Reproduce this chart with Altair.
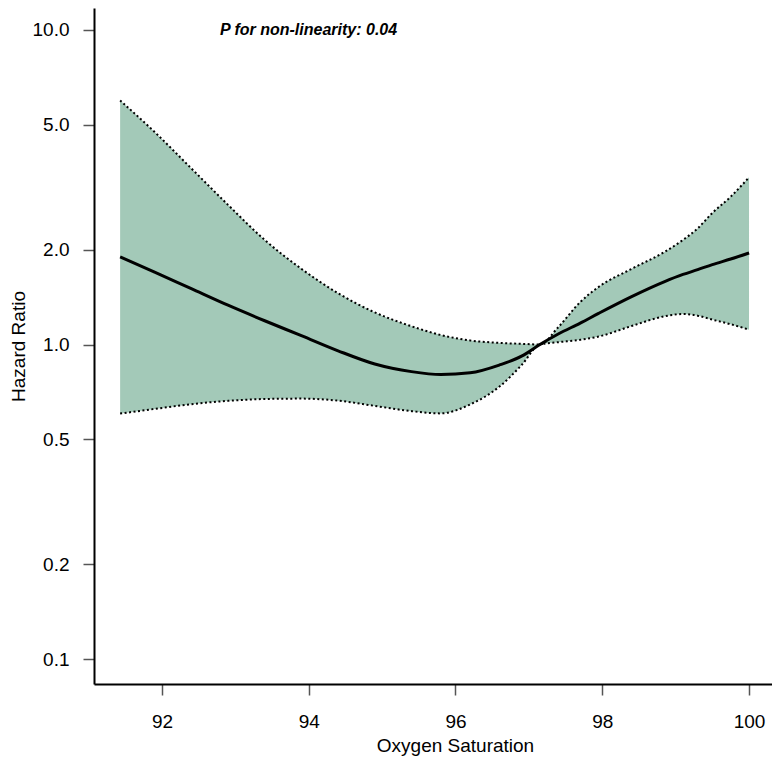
import altair as alt
import pandas as pd

x_vals = [91.43, 91.9, 92.4, 92.9, 93.4, 93.9, 94.4, 94.9, 95.4, 95.8, 96.2, 96.6,
          96.9, 97.15, 97.4, 97.7, 97.95, 98.4, 98.85, 99.1, 99.3, 99.5, 99.75, 100.0]
hr_vals = [1.90, 1.70, 1.505, 1.333, 1.19, 1.067, 0.955, 0.867, 0.82, 0.803, 0.813, 0.861,
           0.918, 1.00, 1.08, 1.17, 1.256, 1.42, 1.585, 1.67, 1.73, 1.795, 1.87, 1.955]
upper_vals = [5.97, 4.74, 3.63, 2.78, 2.15, 1.74, 1.455, 1.265, 1.143, 1.072, 1.03, 1.012,
              1.005, 1.00, 1.135, 1.365, 1.524, 1.74, 1.97, 2.15, 2.34, 2.62, 2.95, 3.40]
lower_vals = [0.603, 0.624, 0.646, 0.662, 0.671, 0.673, 0.663, 0.638, 0.614, 0.604, 0.645, 0.735,
              0.86, 1.00, 1.017, 1.035, 1.06, 1.145, 1.23, 1.25, 1.235, 1.20, 1.16, 1.115]

x_ticks = [92, 94, 96, 98, 100]
y_ticks = [0.1, 0.2, 0.5, 1.0, 2.0, 5.0, 10.0]
annot_text = "P for non-linearity: 0.04"

df = pd.DataFrame({"x": x_vals, "hr": hr_vals, "upper": upper_vals, "lower": lower_vals})
annot = pd.DataFrame({"x": [92.79], "y": [10.0], "t": [annot_text]})

FONT = "Liberation Sans"
xscale = alt.Scale(domain=[91.074, 100.313], nice=False, zero=False)
yscale = alt.Scale(type="log", domain=[0.0833, 11.746], nice=False)

common = dict(grid=False, domainColor="black", domainWidth=2, tickColor="#555555",
              tickWidth=1.5, tickSize=11, labelFontSize=19, labelFont=FONT,
              labelColor="black", titleFont=FONT, titleFontSize=19,
              titleFontWeight="normal", titleColor="black",
              titleAlign="center", labelFlush=False)
xaxis = alt.Axis(values=x_ticks, format="d", title="Oxygen Saturation",
                 labelPadding=17, titleX=361, titleY=67, titleBaseline="alphabetic", **common)
yaxis = alt.Axis(values=y_ticks, format=".1f", title="Hazard Ratio",
                 labelPadding=14, titleX=-76, titleY=338, titleBaseline="middle", **common)

base = alt.Chart(df)

band = base.mark_area(color="#A3C9B8", opacity=1, interpolate="monotone").encode(
    x=alt.X("x:Q", scale=xscale, axis=xaxis),
    y=alt.Y("lower:Q", scale=yscale, axis=yaxis),
    y2="upper:Q",
)
up_line = base.mark_line(color="black", strokeWidth=2, strokeDash=[2, 2.5],
                         interpolate="monotone").encode(
    x=alt.X("x:Q", scale=xscale, axis=xaxis), y=alt.Y("upper:Q", scale=yscale, axis=yaxis))
lo_line = base.mark_line(color="black", strokeWidth=2, strokeDash=[2, 2.5],
                         interpolate="monotone").encode(
    x=alt.X("x:Q", scale=xscale, axis=xaxis), y=alt.Y("lower:Q", scale=yscale, axis=yaxis))
main = base.mark_line(color="black", strokeWidth=3, interpolate="monotone").encode(
    x=alt.X("x:Q", scale=xscale, axis=xaxis), y=alt.Y("hr:Q", scale=yscale, axis=yaxis))
txt = alt.Chart(annot).mark_text(align="left", baseline="middle", font=FONT, fontSize=16,
                                 fontWeight="bold", fontStyle="italic", color="black").encode(
    x=alt.X("x:Q", scale=xscale, axis=xaxis), y=alt.Y("y:Q", scale=yscale, axis=yaxis),
    text="t:N")

chart = alt.layer(band, up_line, lo_line, main, txt).properties(
    width=678, height=676,
    autosize=alt.AutoSizeParams(type="none"),
    padding={"left": 86, "top": 0, "right": 0, "bottom": 73},
    background="white",
).configure_view(stroke=None)

chart.save("out.html", embed_options={"renderer": "svg", "actions": False})
